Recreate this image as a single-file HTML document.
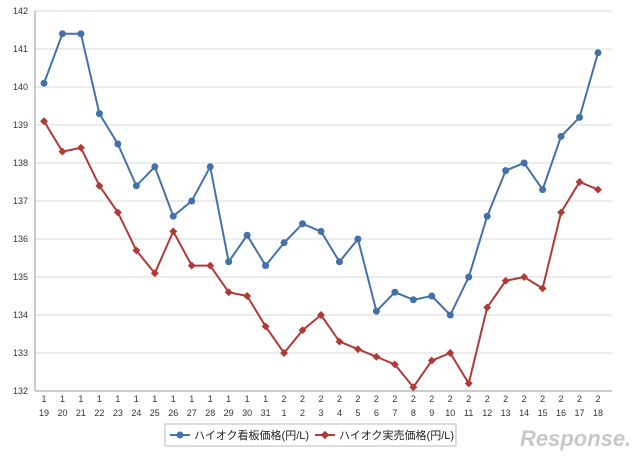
<!DOCTYPE html>
<html><head><meta charset="utf-8"><style>
body{margin:0;background:#fff;width:640px;height:457px;overflow:hidden;font-family:"Liberation Sans","Noto Sans CJK JP",sans-serif}
svg text{font-family:"Liberation Sans","Noto Sans CJK JP",sans-serif}
</style></head><body>
<svg id="chart" width="640" height="457" xmlns="http://www.w3.org/2000/svg">
<g id="grid"></g>
<g id="ylab"></g>
<g id="xlab"></g>
<g id="series"></g>
<g>
<rect x="165" y="424" width="291" height="22" fill="#fff" stroke="#bbb"/>
<g><line x1="170" y1="435" x2="190" y2="435" stroke="#4472a8" stroke-width="2"/><circle cx="180" cy="435" r="3.5" fill="#4472a8"/><text x="194" y="439" font-size="11" fill="#222">ハイオク看板価格(円/L)</text></g>
<g><line x1="315" y1="435" x2="335" y2="435" stroke="#b03a38" stroke-width="2"/><rect x="331" y="432" width="6" height="6" fill="#b03a38" transform="rotate(45 325 435) translate(-9 0)"/><text x="339" y="439" font-size="11" fill="#222">ハイオク実売価格(円/L)</text></g>
</g>
<text x="520" y="446" font-size="22" font-style="italic" font-weight="bold" fill="#c8c8c8">Response.</text>
</svg>
<script>
const dayLabels=["19","20","21","22","23","24","25","26","27","28","29","30","31","1","2","3","4","5","6","7","8","9","10","11","12","13","14","15","16","17","18"];
const monthLabels=["1","1","1","1","1","1","1","1","1","1","1","1","1","2","2","2","2","2","2","2","2","2","2","2","2","2","2","2","2","2","2"];
const boardPrice=[140.1,141.4,141.4,139.3,138.5,137.4,137.9,136.6,137.0,137.9,135.4,136.1,135.3,135.9,136.4,136.2,135.4,136.0,134.1,134.6,134.4,134.5,134.0,135.0,136.6,137.8,138.0,137.3,138.7,139.2,140.9];
const actualPrice=[139.1,138.3,138.4,137.4,136.7,135.7,135.1,136.2,135.3,135.3,134.6,134.5,133.7,133.0,133.6,134.0,133.3,133.1,132.9,132.7,132.1,132.8,133.0,132.2,134.2,134.9,135.0,134.7,136.7,137.5,137.3];
const yTicks=[132,133,134,135,136,137,138,139,140,141,142];
const NS="http://www.w3.org/2000/svg";
const x0=44,x1=598,yMin=132,yMax=142,py0=391,py1=11;
const X=i=>x0+i*(x1-x0)/(dayLabels.length-1);
const Y=v=>py0-(v-yMin)*(py0-py1)/(yMax-yMin);
function mk(t,a,p){const e=document.createElementNS(NS,t);for(const k in a)e.setAttribute(k,a[k]);p.appendChild(e);return e;}
const grid=document.getElementById('grid'),ylab=document.getElementById('ylab'),xlab=document.getElementById('xlab'),ser=document.getElementById('series');
yTicks.forEach(v=>{
 const l=mk('line',{x1:35,x2:612,y1:Y(v),y2:Y(v),stroke:v===yMin?'#999':'#d9d9d9','stroke-width':1},grid);
 
 
 const t=mk('text',{x:28,y:Y(v)+3,'font-size':9,'text-anchor':'end',fill:'#333'},ylab);t.textContent=v;
 
 
});
mk('line',{x1:35,x2:35,y1:py1,y2:py0,stroke:'#999'},grid);
dayLabels.forEach((d,i)=>{
 const a=mk('text',{x:X(i),y:402,'font-size':9,'text-anchor':'middle',fill:'#333'},xlab);a.textContent=monthLabels[i];
 
 
 const b=mk('text',{x:X(i),y:416,'font-size':9,'text-anchor':'middle',fill:'#333'},xlab);b.textContent=d;
 
 
});
function line(vals,col,name,marker){
 const p=mk('polyline',{points:vals.map((v,i)=>X(i)+','+Y(v)).join(' '),fill:'none',stroke:col,'stroke-width':2},ser);
 
 
 vals.forEach((v,i)=>{
  let m;
  if(marker==='c')m=mk('circle',{cx:X(i),cy:Y(v),r:3.5,fill:col},ser);
  else m=mk('rect',{x:X(i)-2.8,y:Y(v)-2.8,width:5.6,height:5.6,fill:col,transform:`rotate(45 ${X(i)} ${Y(v)})`},ser);
  
  
 });
}
line(boardPrice,'#4472a8','board-price','c');
line(actualPrice,'#b03a38','actual-price','d');
</script>
</body></html>
